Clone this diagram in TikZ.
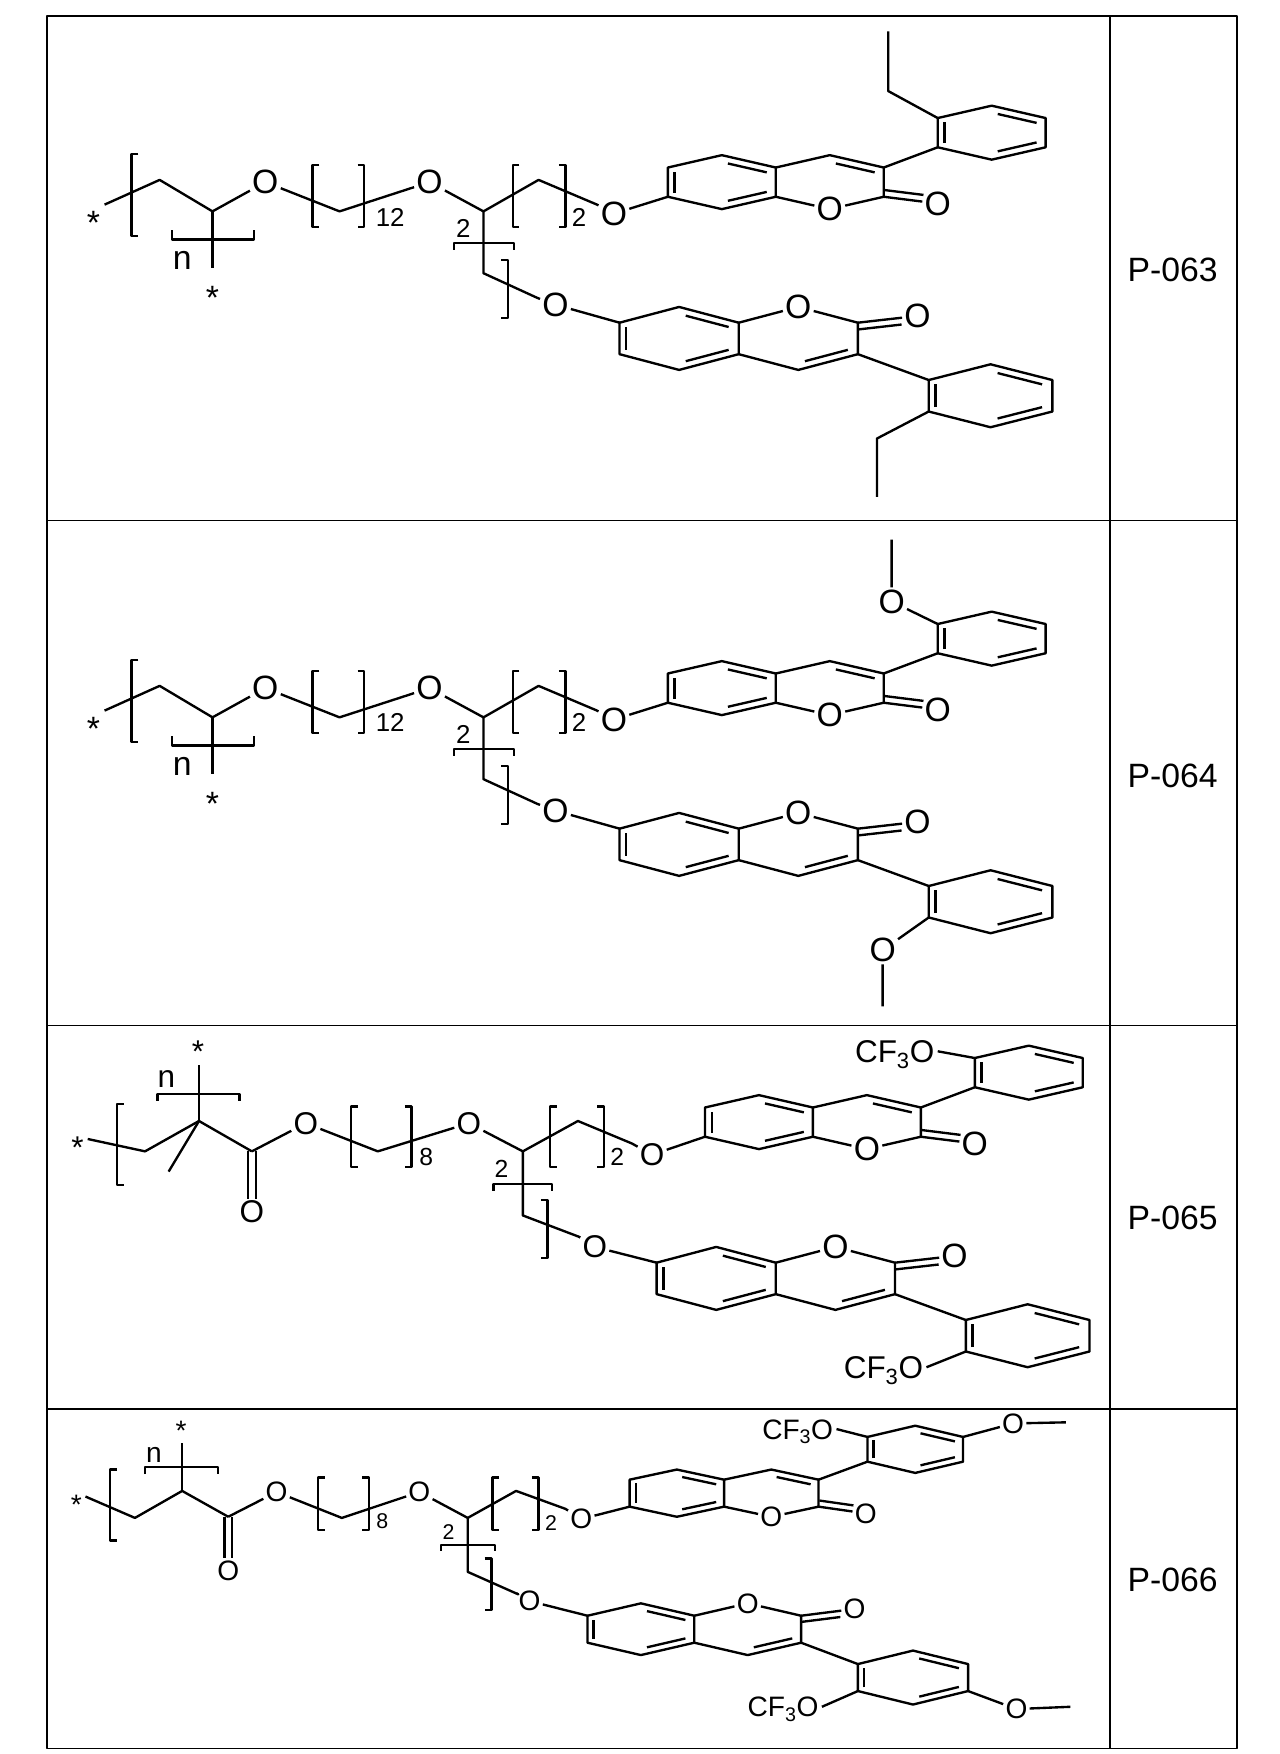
\documentclass[tikz,border=0pt]{standalone}
\usepackage{fontspec}
\setmainfont{Liberation Sans}
\usetikzlibrary{calc}
\def\afs{30}\def\sfs{23}\def\dd{6pt}
\tikzset{
 atom/.style={font=\fontsize{\afs}{\afs}\selectfont, inner sep=1pt, fill=white},
 lab/.style={font=\fontsize{\afs}{\afs}\selectfont, inner sep=0pt},
 sub/.style={font=\fontsize{\sfs}{\sfs}\selectfont, inner sep=0pt},
 plab/.style={font=\fontsize{30}{30}\selectfont, inner sep=0pt},
}
\newcommand\dbl[3]{\draw ($ ($(#1)!0.14!(#2)$)!\dd!-90:(#2) $) -- ($ ($(#1)!0.86!(#2)$)!\dd!90:(#1) $);}
\newcommand\hexr[6]{%
 \coordinate (#1-1) at ({#2-#4},{#3-#5});
 \coordinate (#1-2) at (#2,{#3-#6});
 \coordinate (#1-3) at ({#2+#4},{#3-#5});
 \coordinate (#1-4) at ({#2+#4},{#3+#5});
 \coordinate (#1-5) at (#2,{#3+#6});
 \coordinate (#1-6) at ({#2-#4},{#3+#5});
 \draw (#1-1)--(#1-2)--(#1-3)--(#1-4)--(#1-5)--(#1-6)--cycle;
 \dbl{#1-6}{#1-1}{}\dbl{#1-2}{#1-3}{}\dbl{#1-4}{#1-5}{}}
\newcommand\coum[7]{%
 \hexr{#1A}{#2}{#3}{#4}{#5}{#6}
 \pgfmathsetmacro\angA{-90*#7}\pgfmathsetmacro\angB{90*#7}
 \coordinate (#1C4) at ({#2+2*#4},{#3-#7*#6});
 \coordinate (#1C3) at ({#2+3*#4},{#3-#7*#5});
 \coordinate (#1C2) at ({#2+3*#4},{#3+#7*#5});
 \coordinate (#1C4n) at ({#2+#4},{#3-#7*#5});
 \coordinate (#1O1n) at ({#2+#4},{#3+#7*#5});
 \coordinate (#1C7) at ({#2-#4},{#3+#7*#5});
 \node[atom] (#1O1) at ({#2+2*#4},{#3+#7*#6}) {O};
 \node[atom] (#1Ox) at ({#2+4*#4},{#3+#7*(#5+6)}) {O};
 \draw (#1C4n)--(#1C4)--(#1C3)--(#1C2)--(#1O1)--(#1O1n);
 \draw ($ ($(#1C4)!0.14!(#1C3)$)!\dd!\angA:(#1C3) $) -- ($ ($(#1C4)!0.86!(#1C3)$)!\dd!\angA:(#1C3) $);
 \draw (#1C2)--(#1Ox);
 \draw ($(#1C2)!\dd!\angB:(#1Ox.center)$) -- ($ ($(#1C2)!0.72!(#1Ox.center)$)!\dd!\angB:(#1Ox.center) $);}
\newcommand\lbr[3]{\draw ({#1+6},#2)--(#1,#2)--(#1,#3)--({#1+6},#3);}
\newcommand\rbr[3]{\draw ({#1-6},#2)--(#1,#2)--(#1,#3)--({#1-6},#3);}
\newcommand\hbr[4]{\draw (#1,{#3+#4})--(#1,#3)--(#2,#3)--(#2,{#3+#4});}
\newcommand\chainA{%
 \node[lab] (s1) at (83,198) {*};
 \coordinate (a1) at (93,182); \coordinate (a2) at (142,160); \coordinate (a3) at (189,188);
 \node[atom] (o1) at (236,162) {O};
 \draw (a1)--(a2)--(a3)--(o1);
 \coordinate (a4) at (189,238);
 \draw (a3)--(a4);
 \node[lab] (s2) at (189,265) {*};
 \lbr{117}{137}{210}
 \hbr{153}{226}{213}{-8}
 \node[lab] (nn) at (162,232) {n};
 \coordinate (a5) at (302,188);
 \node[atom] (o2) at (382,162) {O};
 \draw (o1)--(a5)--(o2);
 \lbr{278}{147}{202}\rbr{324}{147}{202}
 \node[sub] at (347,193) {12};
 \coordinate (a6) at (430,188); \coordinate (a7) at (479,160); \coordinate (a8) at (531,182);
 \node[atom] (o3) at (546,190) {O};
 \draw (o2)--(a6)--(a7)--(a8)--(o3);
 \lbr{456}{147}{202}\rbr{503}{147}{202}
 \node[sub] at (515,193) {2};
 \coordinate (a9) at (430,243); \coordinate (a10) at (478,265);
 \node[atom] (o4) at (494,271) {O};
 \draw (a6)--(a9)--(a10)--(o4);
 \node[sub] at (412,203) {2};
 \hbr{404}{457}{216}{6}
 \rbr{452}{231}{283}}
\newcommand\coumsA{%
 \coum{u}{642}{162}{48}{13}{24}{1}
 \hexr{up}{882}{118}{48}{13}{24}
 \draw (uC3)--(up-6);
 \coum{l}{604}{301}{53}{14}{28}{-1}
 \hexr{lp}{881}{352}{55}{14}{28}
 \draw (lC3)--(lp-1);}
\begin{document}
\begin{tikzpicture}[x=1pt,y=-1pt,line width=2.1pt,line join=round]
\useasboundingbox (0,0) rectangle (1138,1560);
\fill[white] (0,0) rectangle (1138,1560);
\begin{scope}[line width=1.5pt]
\draw (42,14) rectangle (1100,1555);
\draw (987,14)--(987,1555);
\draw (42,463)--(1100,463); \draw (42,912)--(1100,912); \draw (42,1253)--(1100,1253);
\end{scope}
\node[plab] at (1043,240) {P-063};
\node[plab] at (1043,690) {P-064};
\node[plab] at (1043,1083) {P-065};
\node[plab] at (1043,1405) {P-066};
% ---------- P-063
\chainA
\coumsA
\draw (o3)--(uC7); \draw (o4)--(lC7);
\draw (up-1)--(790,81)--(790,28);
\draw (lp-6)--(780,390)--(780,442);
% ---------- P-064
\begin{scope}[shift={(0,450)}]
\chainA
\coumsA
\draw (o3)--(uC7); \draw (o4)--(lC7);
\node[atom] (om1) at (793,85) {O};
\draw (up-1)--(om1)--(793,30);
\node[atom] (om2) at (785,395) {O};
\draw (lp-6)--(om2)--(785,445);
\end{scope}
% ---------- P-065
\def\afs{28}\def\sfs{22}
\node[lab] (t1) at (69,1021) {*};
\coordinate (b1) at (78,1013); \coordinate (b2) at (129,1024); \coordinate (b3) at (177,997);
\coordinate (b4) at (150,1042); \coordinate (b5) at (177,947); \coordinate (b6) at (224,1024);
\node[lab] (t2) at (176,935) {*};
\draw (b1)--(b2)--(b3)--(b6); \draw (b3)--(b4); \draw (b3)--(b5);
\lbr{104}{982}{1054}
\hbr{140}{213}{973}{6}
\node[lab] at (148,960) {n};
\node[atom] (oc) at (224,1078) {O};
\draw ([xshift=-3.6pt]b6)--([xshift=-3.6pt]oc.north);
\draw ([xshift=3.6pt]b6)--([xshift=3.6pt]oc.north);
\node[atom] (oe) at (272,999) {O};
\draw (b6)--(oe);
\coordinate (b7) at (336,1024);
\node[atom] (p2) at (417,999) {O};
\draw (oe)--(b7)--(p2);
\lbr{312}{984}{1038}\rbr{366}{984}{1038}
\node[sub] at (379,1029) {8};
\coordinate (b8) at (465,1024); \coordinate (b9) at (514,997); \coordinate (b10) at (562,1017);
\node[atom] (p3) at (580,1027) {O};
\draw (p2)--(b8)--(b9)--(b10)--(p3);
\lbr{489}{984}{1038}\rbr{537}{984}{1038}
\node[sub] at (549,1029) {2};
\coordinate (b11) at (465,1081); \coordinate (b12) at (515,1100);
\node[atom] (p4) at (529,1109) {O};
\draw (b8)--(b11)--(b12)--(p4);
\node[sub] at (446,1040) {2};
\hbr{439}{491}{1053}{6}
\rbr{487}{1067}{1119}
\begin{scope}[shift={(33,836)}]
\def\afs{30}
\coumsA
\def\afs{28}
\node[atom,anchor=base east] (f1) at (800,109) {CF\textsubscript{3}O};
\draw (up-1)--($(f1.base east)+(1,-10)$);
\node[atom,anchor=base east] (f2) at (790,390) {CF\textsubscript{3}O};
\draw (lp-6)--($(f2.base east)+(1,-10)$);
\end{scope}
\draw (p3)--(uC7); \draw (p4)--(lC7);
% ---------- P-066
\def\afs{25}\def\sfs{19}\def\dd{5.5pt}
\node[lab] (r1) at (68,1338) {*};
\coordinate (c1) at (76,1331); \coordinate (c2) at (120,1350); \coordinate (c3) at (162,1326);
\coordinate (c4) at (162,1283); \coordinate (c5) at (203,1349);
\node[lab] (r2) at (161,1273) {*};
\draw (c1)--(c2)--(c3)--(c5); \draw (c3)--(c4);
\lbr{98}{1307}{1370}
\hbr{129}{194}{1305}{6}
\node[lab] at (137,1294) {n};
\node[atom] (qc) at (203,1397) {O};
\draw ([xshift=-3.3pt]c5)--([xshift=-3.3pt]qc.north);
\draw ([xshift=3.3pt]c5)--([xshift=3.3pt]qc.north);
\node[atom] (qe) at (246,1327) {O};
\draw (c5)--(qe);
\coordinate (c6) at (304,1350);
\node[atom] (q2) at (373,1327) {O};
\draw (qe)--(c6)--(q2);
\lbr{283}{1314}{1361}\rbr{328}{1314}{1361}
\node[sub] at (340,1353) {8};
\coordinate (c7) at (416,1350); \coordinate (c8) at (459,1326); \coordinate (c9) at (503,1342);
\node[atom] (q3) at (517,1351) {O};
\draw (q2)--(c7)--(c8)--(c9)--(q3);
\lbr{438}{1314}{1361}\rbr{479}{1314}{1361}
\node[sub] at (490,1355) {2};
\coordinate (c10) at (416,1398); \coordinate (c11) at (461,1418);
\node[atom] (q4) at (471,1424) {O};
\draw (c7)--(c10)--(c11)--(q4);
\node[sub] at (399,1363) {2};
\hbr{392}{440}{1374}{5}
\rbr{437}{1386}{1432}
\coum{v}{602}{1328}{42}{12}{21}{1}
\hexr{vp}{814}{1289}{42.5}{11}{21}
\draw (vC3)--(vp-6);
\coum{w}{570}{1449}{47.5}{12}{23}{-1}
\hexr{wp}{812}{1492}{49}{12}{24}
\draw (wC3)--(wp-1);
\draw (q3)--(vC7); \draw (q4)--(wC7);
\node[atom,anchor=base east] (g1) at (743,1280) {CF\textsubscript{3}O};
\draw (vp-1)--($(g1.base east)+(1,-9)$);
\node[atom,anchor=base east] (g2) at (730,1527) {CF\textsubscript{3}O};
\draw (wp-6)--($(g2.base east)+(1,-9)$);
\node[atom] (m1) at (901,1266) {O};
\draw (vp-3)--(m1)--(948,1265);
\node[atom] (m2) at (904,1520) {O};
\draw (wp-4)--(m2)--(952,1518);
\end{tikzpicture}
\end{document}
